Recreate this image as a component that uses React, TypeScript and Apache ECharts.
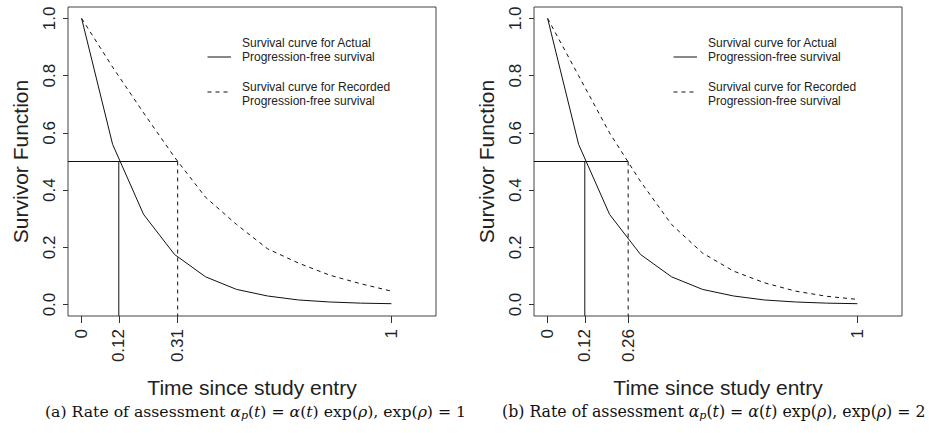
import React, { useEffect, useRef } from "react";
import * as echarts from "echarts";

// ---- data ----
const times = [0, 0.1, 0.2, 0.3, 0.4, 0.5, 0.6, 0.7, 0.8, 0.9, 1.0];
const actualA = [1, 0.56, 0.315, 0.175, 0.097, 0.053, 0.03, 0.016, 0.009, 0.005, 0.003];
const recordedA = [1, 0.83, 0.67, 0.515, 0.375, 0.28, 0.195, 0.145, 0.103, 0.073, 0.047];
const actualB = [1, 0.56, 0.315, 0.175, 0.097, 0.053, 0.03, 0.016, 0.009, 0.005, 0.003];
const recordedB = [1, 0.8, 0.6, 0.43, 0.28, 0.18, 0.117, 0.076, 0.047, 0.029, 0.018];
const medianActual = [0.12, 0.12];
const medianRecorded = [0.31, 0.26];
const halfLevel = 0.5;
const xTicksA = [0, 0.12, 0.31, 1];
const xTicksB = [0, 0.12, 0.26, 1];
const yTicks = [0, 0.2, 0.4, 0.6, 0.8, 1.0];
const legendLabels = [
  ["Survival curve for Actual", "Progression-free survival"],
  ["Survival curve for Recorded", "Progression-free survival"],
];
const captions = [
  "(a) Rate of assessment {i|α}{s|p}({i|t}) = {i|α}({i|t}) exp({i|ρ}), exp({i|ρ}) = 1",
  "(b) Rate of assessment {i|α}{s|p}({i|t}) = {i|α}({i|t}) exp({i|ρ}), exp({i|ρ}) = 2",
];
const xName = "Time since study entry";
const yName = "Survivor Function";

// ---- layout ----
const X_MIN = -0.044;
const X_MAX = 1.144;
const Y_MIN = -0.04;
const Y_MAX = 1.04;
const GRID_TOP = 7;
const GRID_W = 368;
const GRID_H = 309;
const GRID_LEFTS = [68, 534];
const CAP_X = [45, 502];
const CAP_SIZE = [15.7, 15.75];
const SANS = '"Liberation Sans", Arial, Helvetica, sans-serif';
const SERIF = '"DejaVu Serif", "Liberation Serif", serif';
const INK = "#111";
const TXT = "#222";

export default function App() {
  const ref = useRef<HTMLDivElement>(null);

  useEffect(() => {
    document.body.style.margin = "0";
    if (!ref.current) return;
    const chart = echarts.init(ref.current, undefined, { renderer: "svg" });

    const panels = [
      { actual: actualA, recorded: recordedA, ticks: xTicksA },
      { actual: actualB, recorded: recordedB, ticks: xTicksB },
    ];

    const grid: any[] = [];
    const xAxis: any[] = [];
    const yAxis: any[] = [];
    const series: any[] = [];
    const graphic: any[] = [];

    panels.forEach((p, k) => {
      const left = GRID_LEFTS[k];
      grid.push({
        left,
        top: GRID_TOP,
        width: GRID_W,
        height: GRID_H,
        show: true,
        borderColor: "#444",
        borderWidth: 1,
        backgroundColor: "transparent",
      });
      xAxis.push({
        type: "value",
        gridIndex: k,
        min: X_MIN,
        max: X_MAX,
        name: xName,
        nameLocation: "middle",
        nameGap: 61,
        nameTextStyle: { fontFamily: SANS, fontSize: 21, color: TXT },
        axisLine: { show: false, onZero: false },
        splitLine: { show: false },
        axisTick: {
          show: true,
          length: 7,
          customValues: p.ticks,
          lineStyle: { color: "#333", width: 1 },
        },
        axisLabel: {
          show: true,
          customValues: p.ticks,
          rotate: 90,
          margin: 13,
          fontFamily: SANS,
          fontSize: 17,
          color: TXT,
          formatter: (v: number) => String(v),
        },
      });
      yAxis.push({
        type: "value",
        gridIndex: k,
        min: Y_MIN,
        max: Y_MAX,
        name: yName,
        nameLocation: "middle",
        nameGap: 37,
        nameTextStyle: { fontFamily: SANS, fontSize: 21, color: TXT },
        axisLine: { show: false, onZero: false },
        splitLine: { show: false },
        axisTick: {
          show: true,
          length: 5,
          customValues: yTicks,
          lineStyle: { color: "#333", width: 1 },
        },
        axisLabel: {
          show: true,
          customValues: yTicks,
          rotate: 90,
          margin: 10,
          fontFamily: SANS,
          fontSize: 17,
          color: TXT,
          formatter: (v: number) => v.toFixed(1),
        },
      });

      const base = {
        type: "line",
        xAxisIndex: k,
        yAxisIndex: k,
        symbol: "none",
        silent: true,
      };
      series.push({
        ...base,
        name: "Actual",
        data: times.map((t, i) => [t, p.actual[i]]),
        lineStyle: { color: INK, width: 1 },
      });
      series.push({
        ...base,
        name: "Recorded",
        data: times.map((t, i) => [t, p.recorded[i]]),
        lineStyle: { color: INK, width: 1, type: [4, 4] },
      });
      series.push({
        ...base,
        name: "half",
        data: [
          [X_MIN, halfLevel],
          [medianRecorded[k], halfLevel],
        ],
        lineStyle: { color: INK, width: 1 },
      });
      series.push({
        ...base,
        name: "medA",
        data: [
          [medianActual[k], halfLevel],
          [medianActual[k], Y_MIN],
        ],
        lineStyle: { color: INK, width: 1 },
      });
      series.push({
        ...base,
        name: "medR",
        data: [
          [medianRecorded[k], halfLevel],
          [medianRecorded[k], Y_MIN],
        ],
        lineStyle: { color: INK, width: 1, type: [4, 4] },
      });

      // legend (no box)
      const lx1 = left + 139.5;
      const lx2 = left + 163;
      const tx = left + 174;
      const rows = [
        { y1: 43, y2: 57, ys: 57, dash: null },
        { y1: 87, y2: 101, ys: 92, dash: [4, 4] },
      ];
      rows.forEach((r, j) => {
        graphic.push({
          type: "line",
          silent: true,
          shape: { x1: lx1, y1: r.ys, x2: lx2, y2: r.ys },
          style: { stroke: INK, lineWidth: 1, lineDash: r.dash || undefined },
        });
        [r.y1, r.y2].forEach((yy, m) => {
          graphic.push({
            type: "text",
            silent: true,
            x: tx,
            y: yy,
            style: {
              text: legendLabels[j][m],
              font: `12px ${SANS}`,
              fill: TXT,
              textAlign: "left",
              textVerticalAlign: "middle",
            },
          });
        });
      });

      // caption
      const fs = CAP_SIZE[k];
      graphic.push({
        type: "text",
        silent: true,
        x: CAP_X[k],
        y: 411,
        style: {
          text: captions[k],
          font: `${fs}px ${SERIF}`,
          fill: "#111",
          lineHeight: 20,
          textAlign: "left",
          textVerticalAlign: "middle",
          rich: {
            i: { fontStyle: "italic", fontFamily: SERIF, fontSize: fs, lineHeight: 20, fill: "#111", color: "#111" },
            s: {
              fontStyle: "italic",
              fontFamily: SERIF,
              fontSize: 11,
              lineHeight: 11,
              verticalAlign: "bottom",
              fill: "#111",
              color: "#111",
            },
          },
        },
      });
    });

    chart.setOption({
      animation: false,
      backgroundColor: "#fff",
      grid,
      xAxis,
      yAxis,
      series,
      graphic,
    });

    return () => chart.dispose();
  }, []);

  return <div ref={ref} style={{ width: 929, height: 433 }} />;
}
